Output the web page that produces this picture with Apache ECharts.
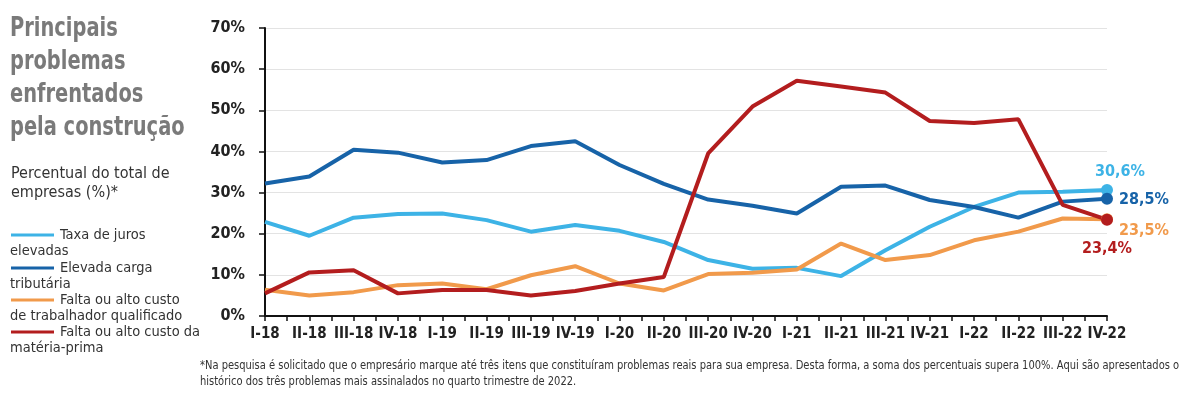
<!DOCTYPE html>
<html>
<head>
<meta charset="utf-8">
<script src="https://cdn.jsdelivr.net/npm/echarts@6/dist/echarts.min.js"></script>
<style>
  html, body { margin: 0; padding: 0; background: #fff; }
  #chart { width: 1184px; height: 396px; }
</style>
</head>
<body>
<div id="chart"></div>
<script>
var categories = ['I-18', 'II-18', 'III-18', 'IV-18', 'I-19', 'II-19', 'III-19', 'IV-19',
    'I-20', 'II-20', 'III-20', 'IV-20', 'I-21', 'II-21', 'III-21', 'IV-21',
    'I-22', 'II-22', 'III-22', 'IV-22'];

var juros = [22.9, 19.5, 23.9, 24.8, 24.9, 23.3, 20.5, 22.1, 20.7, 18.0,
    13.6, 11.5, 11.7, 9.7, 16.0, 21.7, 26.5, 30.0, 30.2, 30.6];
var tributaria = [32.2, 33.9, 40.4, 39.7, 37.3, 37.9, 41.3, 42.5, 36.7, 32.1,
    28.3, 26.8, 24.9, 31.4, 31.7, 28.2, 26.5, 23.9, 27.8, 28.5];
var trabalhador = [6.4, 5.0, 5.8, 7.5, 7.9, 6.5, 9.9, 12.1, 7.9, 6.2,
    10.2, 10.5, 11.3, 17.6, 13.6, 14.8, 18.4, 20.5, 23.7, 23.5];
var materia = [5.5, 10.6, 11.1, 5.5, 6.3, 6.3, 5.0, 6.1, 7.9, 9.5,
    39.5, 50.9, 57.2, 55.8, 54.3, 47.4, 46.9, 47.8, 27.0, 23.4];

var yTicks = [0, 10, 20, 30, 40, 50, 60, 70];

var FONT = '"Liberation Sans Narrow", "DejaVu Sans Condensed", "Roboto", sans-serif';
var C_JUROS = '#3db3e6', C_TRIB = '#1763a8', C_TRAB = '#f19a4b', C_MAT = '#b31d1e';

// ticks every half quarter on the x axis
var halfTicks = [];
for (var i = 0; i < categories.length * 2 - 1; i++) halfTicks.push('');

function fmt(v) {
    return v.toFixed(1).replace('.', ',') + '%';
}

function makeSeries(name, values, color, labelOpt) {
    var last = values.length - 1;
    return {
        name: name,
        type: 'line',
        symbol: 'circle',
        symbolSize: function (v, p) { return p.dataIndex === last ? 12 : 0; },
        lineStyle: { color: color, width: 4 },
        itemStyle: { color: color },
        z: 3,
        data: values.map(function (v, idx) {
            if (idx !== last) return v;
            return {
                value: v,
                label: Object.assign({
                    show: true,
                    formatter: fmt(v),
                    color: color,
                    fontFamily: FONT,
                    fontWeight: 'bold',
                    fontSize: 16
                }, labelOpt)
            };
        })
    };
}

var legendItems = [
    { color: C_JUROS, l1: 'Taxa de juros', l2: 'elevadas', y: 237 },
    { color: C_TRIB, l1: 'Elevada carga', l2: 'tributária', y: 270 },
    { color: C_TRAB, l1: 'Falta ou alto custo', l2: 'de trabalhador qualificado', y: 302 },
    { color: C_MAT, l1: 'Falta ou alto custo da', l2: 'matéria-prima', y: 334 }
];
var graphics = [];
graphics.push({
    type: 'text', x: 10, y: 12, scaleX: 0.8,
    style: {
        text: 'Principais\nproblemas\nenfrentados\npela construção',
        fill: '#7a7a7a', font: 'bold 27px ' + FONT, lineHeight: 33, verticalAlign: 'top'
    }
});
legendItems.forEach(function (it) {
    graphics.push({
        type: 'line', x: 11, y: it.y - 2,
        shape: { x1: 0, y1: 0, x2: 43, y2: 0 },
        style: { stroke: it.color, lineWidth: 3 }
    });
    graphics.push({
        type: 'text', x: 60, y: it.y - 9,
        style: { text: it.l1, fill: '#333', font: '14.5px ' + FONT, verticalAlign: 'top' }
    });
    graphics.push({
        type: 'text', x: 10, y: it.y + 7,
        style: { text: it.l2, fill: '#333', font: '14.5px ' + FONT, verticalAlign: 'top' }
    });
});
graphics.push({
    type: 'text', x: 200, y: 358, scaleX: 0.92,
    style: {
        text: '*Na pesquisa é solicitado que o empresário marque até três itens que constituíram problemas reais para sua empresa. Desta forma, a soma dos percentuais supera 100%. Aqui são apresentados o\nhistórico dos três problemas mais assinalados no quarto trimestre de 2022.',
        fill: '#333', font: '12px ' + FONT, lineHeight: 16, verticalAlign: 'top'
    }
});

var chart = echarts.init(document.getElementById('chart'));
var option = {
    backgroundColor: '#fff',
    animation: false,
    title: {
        text: 'Percentual do total de\nempresas (%)*',
        left: 6, top: 159,
        textStyle: { color: '#333', fontFamily: FONT, fontWeight: 'normal', fontSize: 16, lineHeight: 19 }
    },
    grid: { left: 265, right: 77, top: 28, bottom: 80 },
    xAxis: [
        {
            type: 'category',
            data: categories,
            boundaryGap: false,
            axisLine: { lineStyle: { color: '#111', width: 2 } },
            axisTick: { show: false },
            axisLabel: { color: '#222', fontFamily: FONT, fontSize: 15, fontWeight: 'bold', margin: 11, interval: 0 },
            splitLine: { show: false }
        },
        {
            type: 'category',
            data: halfTicks,
            boundaryGap: false,
            position: 'bottom',
            axisLine: { show: false },
            axisTick: { show: true, interval: 0, length: 5, lineStyle: { color: '#111', width: 1.5 } },
            axisLabel: { show: false },
            splitLine: { show: false }
        }
    ],
    yAxis: {
        type: 'value',
        min: yTicks[0],
        max: yTicks[yTicks.length - 1],
        interval: 10,
        axisLine: { show: true, lineStyle: { color: '#111', width: 2 } },
        axisTick: { show: true, length: 6, lineStyle: { color: '#111', width: 1.5 } },
        axisLabel: { color: '#222', fontFamily: FONT, fontSize: 16, fontWeight: 'bold', margin: 20, formatter: '{value}%' },
        splitLine: { lineStyle: { color: '#e3e3e3', width: 1 } }
    },
    graphic: graphics,
    series: [
        makeSeries('Taxa de juros elevadas', juros, C_JUROS, { position: 'top', distance: 4, offset: [13, 0] }),
        makeSeries('Elevada carga tributária', tributaria, C_TRIB, { position: 'right', distance: 6, offset: [0, 1] }),
        makeSeries('Falta ou alto custo de trabalhador qualificado', trabalhador, C_TRAB, { position: 'right', distance: 6, offset: [0, 12] }),
        makeSeries('Falta ou alto custo da matéria-prima', materia, C_MAT, { position: 'bottom', distance: 15 })
    ]
};
chart.setOption(option);
</script>
</body>
</html>
